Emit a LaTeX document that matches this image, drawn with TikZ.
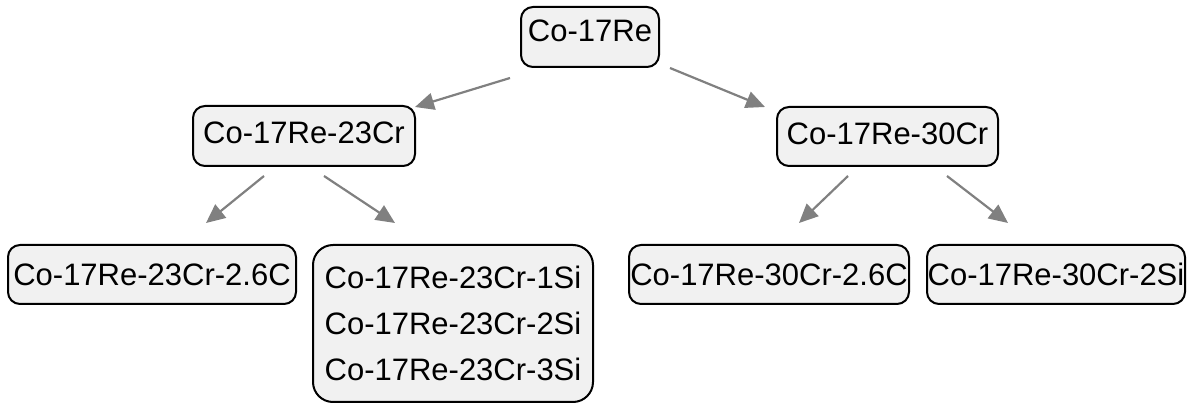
\documentclass[tikz,border=0pt]{standalone}
\usepackage{fontspec}
\setmainfont{Liberation Sans}
\usetikzlibrary{calc,arrows.meta}

\definecolor{boxfill}{HTML}{F1F1F1}
\definecolor{arrowgray}{HTML}{808080}

\tikzset{
  alloy/.style={draw=black, line width=2pt, fill=boxfill, rounded corners=12pt,
    rectangle, inner sep=0pt, minimum height=59pt,
    font=\fontsize{31}{46}\selectfont, align=center},
  link/.style={draw=arrowgray, line width=2.2pt,
    -{Triangle[length=19pt,width=17pt]}}
}

\begin{document}
\begin{tikzpicture}[x=1pt,y=-1pt]
  \useasboundingbox (0,0) rectangle (1187,403);

  % alloy tree
  \node[alloy, minimum width=138pt, minimum height=60pt, text depth=12pt] (top) at (590,37) {Co-17Re};
  \node[alloy, minimum width=222pt, minimum height=60pt, text depth=6pt] (l23) at (304,136) {Co-17Re-23Cr};
  \node[alloy, minimum width=221pt, text depth=6pt] (r30) at (887.5,136.5) {Co-17Re-30Cr};

  \node[alloy, minimum width=288pt] (b1) at (152,274.5) {Co-17Re-23Cr-2.6C};
  \node[alloy, minimum width=280pt, minimum height=157pt, rounded corners=20pt] (b2) at (453,323.5)
    {Co-17Re-23Cr-1Si\\Co-17Re-23Cr-2Si\\Co-17Re-23Cr-3Si};
  \node[alloy, minimum width=280pt] (b3) at (769,274.5) {Co-17Re-30Cr-2.6C};
  \node[alloy, minimum width=258pt] (b4) at (1056,274.5) {Co-17Re-30Cr-2Si};

  % branches
  \draw[link] ($(top.south west)+(-10,10)$) -- ($(l23.north east)+(-1,2)$);
  \draw[link] ($(top.south east)+(10,0)$) -- ($(r30.north west)+(-11,1)$);
  \draw[link] ($(l23.south)+(-40,9)$) -- ($(b1.north)+(54,-21)$);
  \draw[link] ($(l23.south)+(20,9)$) -- ($(b2.north)+(-58,-21)$);
  \draw[link] ($(r30.south)+(-39.5,9)$) -- ($(b3.north)+(30,-21)$);
  \draw[link] ($(r30.south)+(59.5,9)$) -- ($(b4.north)+(-48,-21)$);
\end{tikzpicture}
\end{document}
